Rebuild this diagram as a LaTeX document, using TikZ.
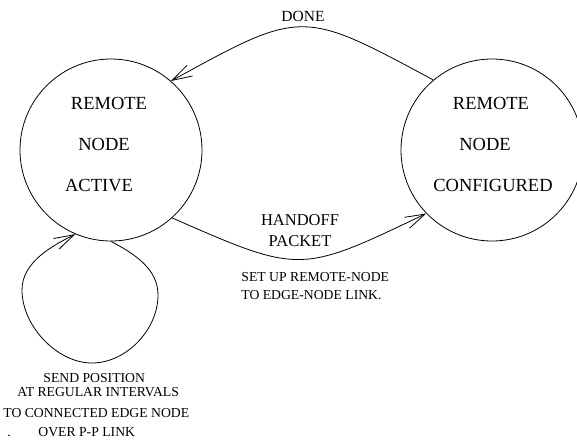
\documentclass[tikz,border=0pt]{standalone}
\usepackage{fontspec}
\setmainfont{Liberation Serif}
\usetikzlibrary{arrows.meta}
\begin{document}
\begin{tikzpicture}[x=1pt,y=-1pt,
  line width=0.8pt,
  state/.style={draw, circle, minimum size=182pt, inner sep=0pt},
  statelabel/.style={anchor=base, inner sep=0pt, font=\fontsize{18.5}{20}\selectfont},
  edgelabel/.style={anchor=base, inner sep=0pt, font=\fontsize{15.5}{17}\selectfont},
  note/.style={anchor=base west, inner sep=0pt, font=\fontsize{13.7}{15}\selectfont},
  arc/.style={-{Straight Barb[length=20pt,width=12pt]}}]
  \useasboundingbox[fill=white] (0,0) rectangle (577,439);

  % states
  \node[state] (act) at (111,150) {};
  \node[state] (cfg) at (492,150) {};
  \node[statelabel] (act1) at (109,109) {REMOTE};
  \node[statelabel] (act2) at (104,150) {NODE};
  \node[statelabel] (act3) at (99,191) {ACTIVE};
  \node[statelabel] (cfg1) at (491,109) {REMOTE};
  \node[statelabel] (cfg2) at (485,150) {NODE};
  \node[statelabel] (cfg3) at (493,191) {CONFIGURED};

  % transitions
  \draw[arc] (cfg.130) .. controls (302,9) and (302,9) .. (act.49);
  \node[edgelabel] (done) at (303,21.5) {DONE};

  \draw[arc] (act.-48) .. controls (300,274) and (300,274) .. (cfg.224);
  \node[edgelabel, font=\fontsize{16.5}{18}\selectfont] (hand1) at (300,225.5) {HANDOFF};
  \node[edgelabel, font=\fontsize{16.5}{18}\selectfont] (hand2) at (300,246) {PACKET};
  \node[note] (setup1) at (241,281) {SET UP REMOTE-NODE};
  \node[note] (setup2) at (241,299.5) {TO EDGE-NODE LINK.};

  % self loop on the active state
  \draw[arc] (act.-90) .. controls (137,255) and (158,270) .. (158,295)
    .. controls (158,330) and (126,363) .. (92,363)
    .. controls (57,363) and (22,326) .. (22,290)
    .. controls (22,262) and (52,246) .. (act.247);
  \node[note] (send1) at (43,382.5) {SEND POSITION};
  \node[note] (send2) at (17,396.5) {AT REGULAR INTERVALS};
  \node[note] (send3) at (3,417) {TO CONNECTED EDGE NODE};
  \node[note] (send4) at (38,436) {OVER P-P LINK};
  \node[note] (dot) at (7,436) {.};
\end{tikzpicture}
\end{document}
